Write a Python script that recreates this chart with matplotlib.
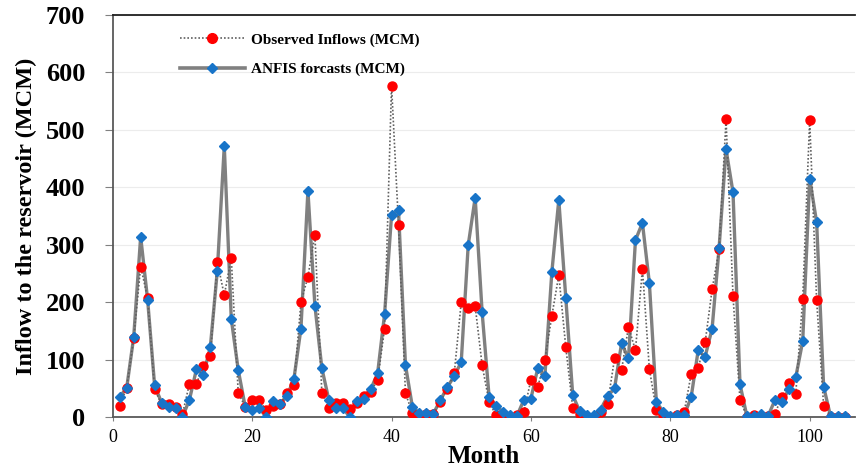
import matplotlib
matplotlib.use("Agg")
import matplotlib.pyplot as plt
from matplotlib.lines import Line2D

months = list(range(1, 106))

observed = [20, 51, 137, 262, 207, 48, 22, 23, 17, 5,
            58, 58, 88, 106, 270, 212, 277, 42, 18, 29,
            29, 12, 20, 23, 41, 56, 200, 244, 317, 42,
            16, 24, 24, 14, 25, 36, 44, 64, 154, 577,
            335, 41, 7, 4, 5, 5, 26, 49, 76, 200,
            189, 193, 90, 26, 3, 6, 0, 3, 9, 65,
            53, 99, 176, 247, 122, 16, 6, 0, 0, 9,
            23, 102, 81, 157, 116, 258, 83, 12, 3, 0,
            3, 9, 75, 86, 130, 222, 292, 518, 210, 30,
            0, 3, 0, 1, 5, 35, 59, 40, 206, 517,
            203, 20, 0, 0, 0]

anfis = [35, 51, 139, 314, 204, 55, 25, 17, 15, 0,
         30, 83, 73, 122, 255, 472, 171, 82, 18, 13,
         16, 0, 27, 23, 36, 67, 154, 394, 194, 85,
         30, 15, 16, 0, 28, 32, 48, 76, 179, 351,
         360, 90, 17, 7, 7, 6, 29, 52, 71, 96,
         299, 382, 182, 35, 19, 9, 4, 2, 30, 32,
         86, 71, 252, 378, 208, 38, 10, 3, 4, 13,
         36, 50, 128, 102, 308, 338, 233, 26, 9, 1,
         3, 3, 35, 116, 105, 154, 294, 466, 391, 57,
         1, 1, 5, 1, 29, 26, 48, 69, 132, 415,
         339, 53, 1, 1, 1]

label_obs = "Observed Inflows (MCM)"
label_anfis = "ANFIS forcasts (MCM)"
xticks = [0, 20, 40, 60, 80, 100]
yticks = [0, 100, 200, 300, 400, 500, 600, 700]

SERIF = ["Liberation Serif", "DejaVu Serif"]
RED = "#ff0000"
BLUE = "#1874c8"
GRAY = "#808080"
DOT = "#606060"

fig = plt.figure(figsize=(8.61, 4.68), dpi=100)
ax = fig.add_axes([0.131, 0.109, 0.862, 0.859])

ax.plot(months, anfis, color=GRAY, lw=2.4, zorder=2)
ax.plot(months, observed, color=DOT, lw=1.2, ls=(0, (1, 1.2)), marker="o",
        ms=6.5, mfc=RED, mec=RED, zorder=3)
ax.plot(months, anfis, ls="none", marker="D", ms=5.5, mfc=BLUE, mec=BLUE, zorder=4)

ax.set_xlim(0, 106.5)
ax.set_ylim(0, 700)
ax.set_xticks(xticks)
ax.set_yticks(yticks)
ax.grid(axis="y", color="#ececec", lw=0.8, zorder=0)
ax.set_axisbelow(True)

for s in ["left", "bottom"]:
    ax.spines[s].set_color("#595959")
    ax.spines[s].set_linewidth(1.3)
ax.spines["top"].set_color("#202020")
ax.spines["top"].set_linewidth(1.3)
ax.spines["right"].set_visible(False)

ax.tick_params(axis="y", direction="out", length=6, color="#808080", pad=14)
ax.tick_params(axis="x", direction="out", length=3, color="#808080", pad=6)
for lab in ax.get_yticklabels():
    lab.set_fontfamily(SERIF)
    lab.set_fontweight("bold")
    lab.set_fontsize(19)
for lab in ax.get_xticklabels():
    lab.set_fontfamily(SERIF)
    lab.set_fontsize(13)

ax.set_xlabel("Month", fontfamily=SERIF, fontweight="bold", fontsize=18, labelpad=-1)
ax.set_ylabel("Inflow to the reservoir (MCM)", fontfamily=SERIF, fontweight="bold",
              fontsize=17.5, labelpad=6)

h1 = Line2D([], [], color=DOT, lw=1.2, ls=(0, (1, 1.2)), marker="o", ms=7,
            mfc=RED, mec=RED)
h2 = Line2D([], [], color=GRAY, lw=2.6, marker="D", ms=5.5, mfc=BLUE, mec=BLUE)
leg = ax.legend([h1, h2], [label_obs, label_anfis], loc="upper left",
                bbox_to_anchor=(0.09, 0.955), frameon=False, borderpad=0,
                borderaxespad=0, handlelength=4.3, handletextpad=0.4,
                labelspacing=1.0,
                prop={"family": SERIF, "weight": "bold", "size": 11})

fig.savefig("out.png", dpi=100)
